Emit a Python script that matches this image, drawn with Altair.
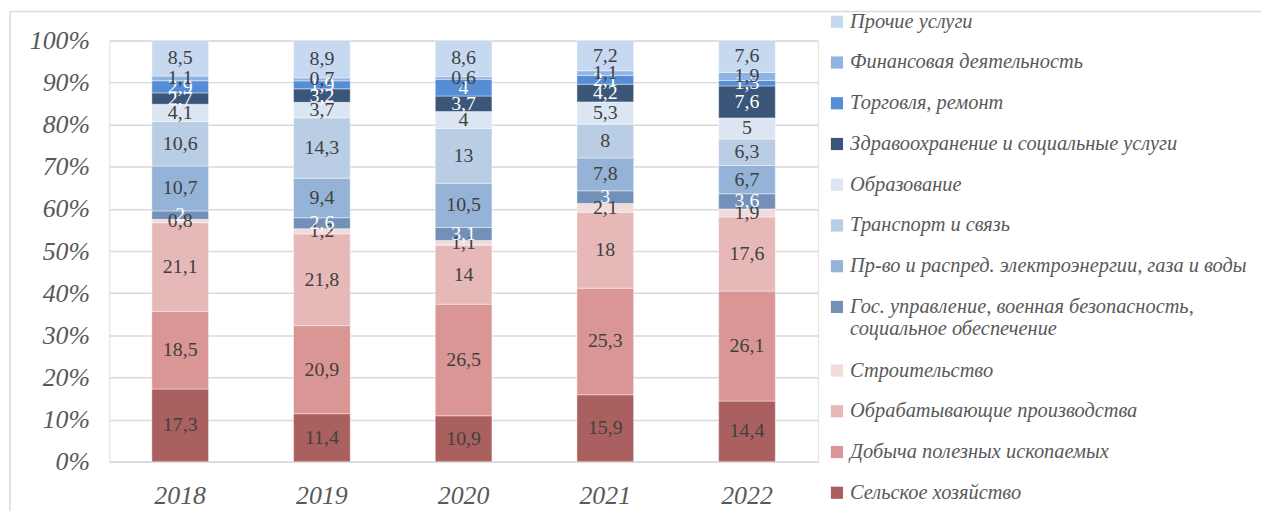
import altair as alt
import pandas as pd

years = ["2018", "2019", "2020", "2021", "2022"]

# bottom-to-top stacking order
categories = [
    "Сельское хозяйство",
    "Добыча полезных ископаемых",
    "Обрабатывающие производства",
    "Строительство",
    "Гос. управление, военная безопасность, социальное обеспечение",
    "Пр-во и распред. электроэнергии, газа и воды",
    "Транспорт и связь",
    "Образование",
    "Здравоохранение и социальные услуги",
    "Торговля, ремонт",
    "Финансовая деятельность",
    "Прочие услуги",
]

agriculture = [17.3, 11.4, 10.9, 15.9, 14.4]
mining = [18.5, 20.9, 26.5, 25.3, 26.1]
manufacturing = [21.1, 21.8, 14, 18, 17.6]
construction = [0.8, 1.2, 1.1, 2.1, 1.9]
government = [2, 2.6, 3.1, 3, 3.6]
utilities = [10.7, 9.4, 10.5, 7.8, 6.7]
transport = [10.6, 14.3, 13, 8, 6.3]
education = [4.1, 3.7, 4, 5.3, 5]
health = [2.7, 3.2, 3.7, 4.2, 7.6]
trade = [2.9, 1.9, 4, 2.1, 1.3]
finance = [1.1, 0.7, 0.6, 1.1, 1.9]
other = [8.5, 8.9, 8.6, 7.2, 7.6]

series = [agriculture, mining, manufacturing, construction, government, utilities,
          transport, education, health, trade, finance, other]

colors = ["#A9605F", "#D99694", "#E6B9B8", "#F2DCDB", "#7290B8", "#95B3D7",
          "#B9CDE5", "#DCE6F2", "#3B5679", "#558ED5", "#8EB4E3", "#C6D9F1"]

dark_categories = [categories[4], categories[8], categories[9]]

rows = []
for i, (cat, vals) in enumerate(zip(categories, series)):
    for y, v in zip(years, vals):
        rows.append({"year": y, "category": cat, "value": v, "idx": i})
df = pd.DataFrame(rows)

legend_order = categories[::-1]
legend_colors = colors[::-1]

font = "Liberation Serif"
gray = "#595959"

base = alt.Chart(df).transform_stack(
    stack="value", groupby=["year"], sort=[alt.SortField("idx", order="ascending")],
    as_=["y0", "y1"], offset="normalize"
).transform_calculate(
    mid="(datum.y0 + datum.y1) / 2",
    label="replace(toString(datum.value), '.', ',')"
)

x_enc = alt.X("year:N", sort=years, title=None,
              scale=alt.Scale(paddingInner=0.6, paddingOuter=0.3),
              axis=alt.Axis(labelAngle=0, labelFont=font, labelFontStyle="italic",
                            labelFontSize=26, labelColor=gray, ticks=False,
                            domainColor="#D9D9D9", domainWidth=1.5, labelPadding=21))

bars = base.mark_bar(stroke="white", strokeWidth=0.6, strokeOpacity=0.7).encode(
    x=x_enc,
    y=alt.Y("y0:Q", title=None, scale=alt.Scale(domain=[0, 1]),
            axis=alt.Axis(format=".0%", values=[i / 10 for i in range(11)],
                          labelFont=font, labelFontStyle="italic", labelFontSize=26,
                          labelColor=gray, ticks=False, domain=False,
                          gridColor="#D9D9D9", gridWidth=1.5, labelPadding=20)),
    y2="y1:Q",
    color=alt.Color("category:N",
                    scale=alt.Scale(domain=legend_order, range=legend_colors),
                    legend=alt.Legend(
                        title=None, orient="none", legendX=722, legendY=-29,
                        symbolType="square", symbolSize=150, symbolStrokeWidth=0,
                        labelFont=font, labelFontStyle="italic", labelFontSize=20.5,
                        labelColor=gray, labelLimit=600, rowPadding=20,
                        labelOffset=3, padding=0,
                        labelExpr="indexof(datum.label, 'Гос.') == 0 ? ['Гос. управление, военная безопасность,', 'социальное обеспечение'] : datum.label",
                    )),
    order=alt.Order("idx:Q", sort="ascending"),
)

texts = base.mark_text(font=font, fontSize=20, baseline="middle").encode(
    x=alt.X("year:N", sort=years),
    y=alt.Y("mid:Q"),
    text="label:N",
    color=alt.condition(
        alt.FieldOneOfPredicate(field="category", oneOf=dark_categories),
        alt.value("white"), alt.value("#404040")),
)

border_v = alt.Chart(pd.DataFrame({"a": [0]})).mark_rule(color="#D9D9D9", strokeWidth=1.5).encode(
    x=alt.value(-100), y=alt.value(-29), y2=alt.value(480))
border_h = alt.Chart(pd.DataFrame({"a": [0]})).mark_rule(color="#D9D9D9", strokeWidth=1.5).encode(
    x=alt.value(-100), x2=alt.value(1160), y=alt.value(-29))

chart = alt.layer(border_v, border_h, bars, texts).properties(
    width=713, height=424,
    autosize=alt.AutoSizeParams(type="none"),
    padding={"left": 102, "top": 31, "right": 446, "bottom": 48},
).configure_view(stroke=None).configure(background="white")

chart.save("out.html", embed_options={"renderer": "svg", "actions": False})
